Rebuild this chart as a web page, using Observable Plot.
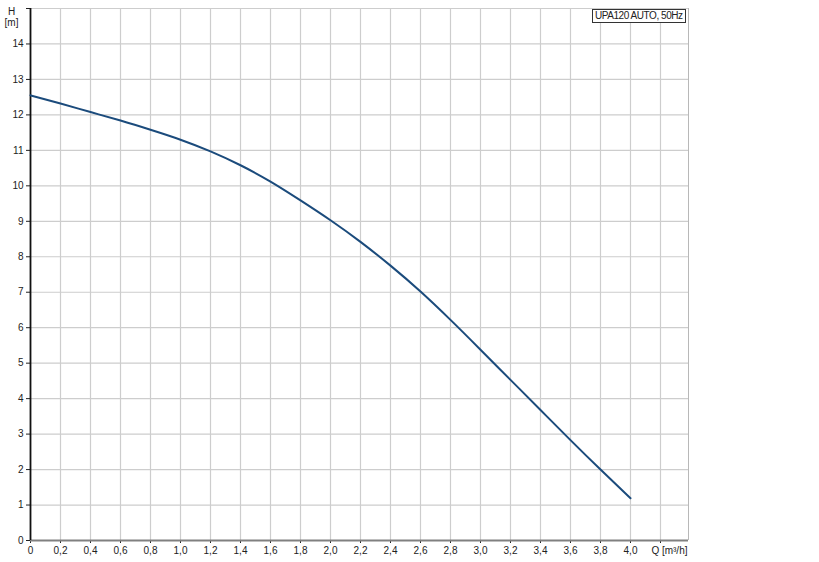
<!DOCTYPE html>
<html>
<head>
<meta charset="utf-8">
<script src="https://cdn.jsdelivr.net/npm/d3@7"></script>
<script src="https://cdn.jsdelivr.net/npm/@observablehq/plot@0.6"></script>
<style>
  html, body { margin: 0; padding: 0; background: #fff; }
  #wrap { position: relative; width: 819px; height: 562px; }
  #legend {
    position: absolute; left: 592px; top: 9px; height: 12px; line-height: 12px;
    padding: 0 2px; border: 1px solid #333; background: #fff;
    font-family: "Liberation Sans", Arial, sans-serif; font-size: 10px; letter-spacing: -0.45px; color: #222;
    white-space: nowrap;
  }
</style>
</head>
<body>
<div id="wrap"><div id="legend">UPA120 AUTO, 50Hz</div></div>
<script>
const flowQ = [0, 0.2, 0.4, 0.6, 0.8, 1.0, 1.2, 1.4, 1.6, 1.8, 2.0, 2.2, 2.4, 2.6, 2.8, 3.0, 3.2, 3.4, 3.6, 3.8, 4.0];
const headH = [12.55, 12.32, 12.08, 11.84, 11.58, 11.30, 10.97, 10.58, 10.12, 9.59, 9.03, 8.42, 7.75, 7.02, 6.22, 5.38, 4.53, 3.68, 2.83, 2.00, 1.19];
const xTicks = [0, 0.2, 0.4, 0.6, 0.8, 1.0, 1.2, 1.4, 1.6, 1.8, 2.0, 2.2, 2.4, 2.6, 2.8, 3.0, 3.2, 3.4, 3.6, 3.8, 4.0, 4.2];
const yTicks = [0, 1, 2, 3, 4, 5, 6, 7, 8, 9, 10, 11, 12, 13, 14, 15];
const xMax = 4.3867;
const yMax = 15;
const legendText = "UPA120 AUTO, 50Hz";
const yLabel1 = "H";
const yLabel2 = "[m]";
const xLabel = "Q [m³/h]";

const data = flowQ.map((q, i) => ({q, h: headH[i]}));

const fmtX = d => d === 0 ? "0" : d > 4.1 ? "" : d.toFixed(1).replace(".", ",");

const chart = Plot.plot({
  width: 819,
  height: 562,
  marginLeft: 30,
  marginRight: 131,
  marginTop: 8,
  marginBottom: 22,
  x: {domain: [0, xMax]},
  y: {domain: [0, yMax]},
  style: {fontFamily: "'Liberation Sans', Arial, sans-serif", fontSize: "10px", color: "#222", background: "#fff", overflow: "visible"},
  marks: [
    Plot.ruleX(xTicks.filter(d => d > 0), {stroke: "#cdcdcd", strokeWidth: 1.2}),
    Plot.ruleY(yTicks.filter(d => d > 0), {stroke: "#cdcdcd", strokeWidth: 1.2}),
    Plot.ruleX([xMax], {stroke: "#b8b8b8", strokeWidth: 1}),
    Plot.axisX({ticks: xTicks, tickFormat: fmtX, tickSize: 3, tickPadding: 3, label: null}),
    Plot.axisY({ticks: yTicks, tickFormat: d => d === 15 ? "" : String(d), tickSize: 4, tickPadding: 3, label: null}),
    Plot.ruleY([0], {stroke: "#808080", strokeWidth: 2.2}),
    Plot.ruleX([0], {stroke: "#111", strokeWidth: 1.8}),
    Plot.line(data, {x: "q", y: "h", stroke: "#1b4b7c", strokeWidth: 2, curve: "natural"}),
    Plot.text([yLabel1], {x: 0, y: yMax, text: d => d, dx: -19, dy: 3, fill: "#222"}),
    Plot.text([yLabel2], {x: 0, y: yMax, text: d => d, dx: -19, dy: 14, fill: "#222"}),
    Plot.text([xLabel], {x: xMax, y: 0, text: d => d, textAnchor: "end", dx: -1, dy: 10, fill: "#222"})
  ]
});
document.getElementById("wrap").prepend(chart);
</script>
</body>
</html>
